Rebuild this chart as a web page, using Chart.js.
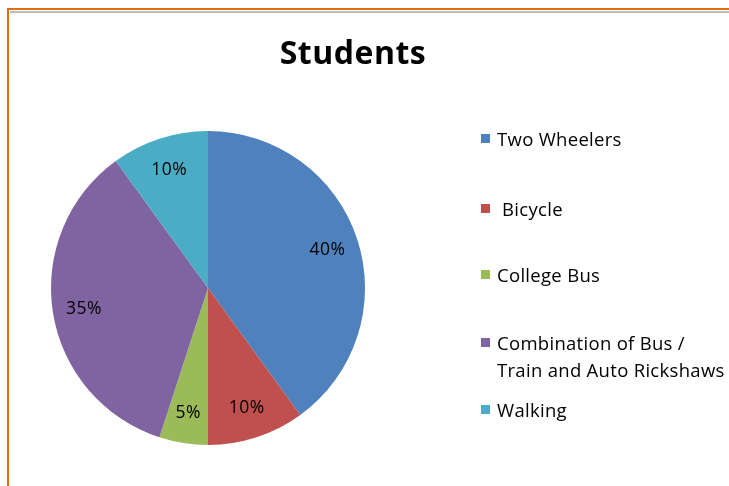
<!DOCTYPE html>
<html>
<head>
    <title>Students</title>
    <script src="https://cdn.jsdelivr.net/npm/chart.js"></script>
    <style>
        body { margin: 0; background: #fff; }
        #wrap { position: relative; width: 729px; height: 486px; }
        #frame {
            position: absolute; left: 7px; top: 8px; right: 0; bottom: 0;
            border-top: 2px solid #e46c0a; border-left: 2px solid #e46c0a;
        }
        #frame::after {
            content: ''; position: absolute; left: 1px; right: 0; top: 1px;
            border-top: 2px solid #b8bcc4;
        }
        canvas { position: absolute; left: 0; top: 0; }
    </style>
</head>
<body>
    <div id="wrap">
        <div id="frame"></div>
        <canvas id="studentsChart" width="729" height="486"></canvas>
    </div>

    <script>
        const categories = ['Two Wheelers', 'Bicycle', 'College Bus', 'Combination of Bus / Train and Auto Rickshaws', 'Walking'];
        const legendLines = [['Two Wheelers'], [' Bicycle'], ['College Bus'], ['Combination of Bus /', 'Train and Auto Rickshaws'], ['Walking']];
        const shares = [40, 10, 5, 35, 10];
        const colors = ['#4f81bd', '#c0504d', '#9bbb59', '#8064a2', '#4bacc6'];
        const legendY = [139, 209, 275, 343, 410];

        const font = "'Open Sans', 'Lato', sans-serif";

        // percent labels inside slices + title + legend, drawn on top
        const extras = {
            id: 'extras',
            afterDraw(chart) {
                const ctx = chart.ctx;
                ctx.save();
                ctx.fillStyle = '#000';
                ctx.textAlign = 'center';
                ctx.textBaseline = 'middle';
                ctx.font = 'bold 32px ' + font;
                ctx.letterSpacing = '0.5px';
                ctx.fillText('Students', 353, 55);

                ctx.font = '17.5px ' + font;
                ctx.letterSpacing = '0.5px';
                chart.getDatasetMeta(0).data.forEach((arc, i) => {
                    const p = arc.getProps(['x', 'y', 'startAngle', 'endAngle', 'outerRadius']);
                    const mid = (p.startAngle + p.endAngle) / 2;
                    const r = p.outerRadius * 0.8;
                    ctx.fillText(shares[i] + '%', p.x + Math.cos(mid) * r, p.y + Math.sin(mid) * r + 1);
                });

                ctx.textAlign = 'left';
                ctx.font = '18.5px ' + font;
                ctx.letterSpacing = '0.3px';
                legendLines.forEach((lines, i) => {
                    ctx.fillStyle = colors[i];
                    ctx.fillRect(481, legendY[i] - 5, 9, 9);
                    ctx.fillStyle = '#000';
                    lines.forEach((t, j) => ctx.fillText(t, 497, legendY[i] + 2 + j * 27));
                });
                ctx.restore();
            }
        };

        const ctx = document.getElementById('studentsChart').getContext('2d');
        const studentsChart = new Chart(ctx, {
            type: 'pie',
            data: {
                labels: categories,
                datasets: [{
                    data: shares,
                    backgroundColor: colors,
                    borderWidth: 0
                }]
            },
            options: {
                responsive: false,
                animation: false,
                layout: {
                    padding: { left: 51, right: 364, top: 131, bottom: 41 }
                },
                plugins: {
                    legend: { display: false },
                    title: { display: false },
                    tooltip: { enabled: false }
                }
            },
            plugins: [extras]
        });
    </script>
</body>
</html>
